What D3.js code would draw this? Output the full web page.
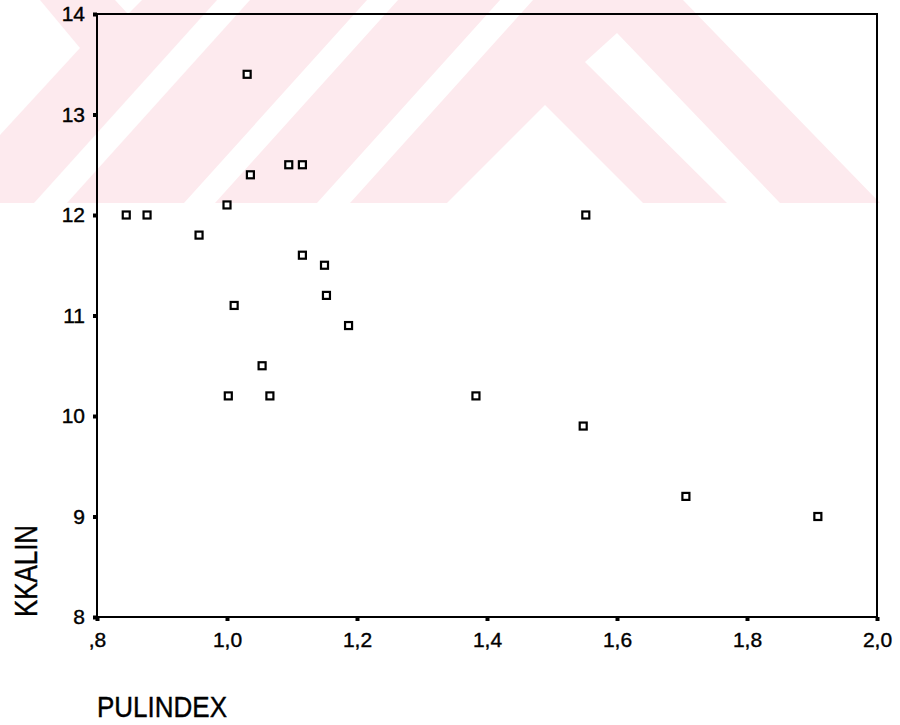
<!DOCTYPE html>
<html>
<head>
<meta charset="utf-8">
<title>KKALIN vs PULINDEX</title>
<style>
  body { margin: 0; background: #fff; }
  svg { display: block; font-family: "Liberation Sans", Arial, Helvetica, sans-serif; }
  text { fill: #000; stroke: #000; stroke-width: 0.4px; }
</style>
</head>
<body>
<svg></svg>
<script src="https://d3js.org/d3.v7.min.js"></script>
<script>
// data
const pulindex = [0.845, 0.877, 0.957, 1.000, 1.031, 1.036, 1.095, 1.116, 1.116, 1.150, 1.153,
                  1.187, 1.011, 1.054, 1.002, 1.066, 1.383, 1.552, 1.548, 1.706, 1.909];
const kkalin   = [12.0, 12.0, 11.8, 12.1, 13.4, 12.4, 12.5, 12.5, 11.6, 11.5, 11.2,
                  10.9, 11.1, 10.5, 10.2, 10.2, 10.2, 12.0, 9.9, 9.2, 9.0];

const xTicks = [0.8, 1.0, 1.2, 1.4, 1.6, 1.8, 2.0];
const xTickLabels = [",8", "1,0", "1,2", "1,4", "1,6", "1,8", "2,0"];
const yTicks = [8, 9, 10, 11, 12, 13, 14];
const yTickLabels = ["8", "9", "10", "11", "12", "13", "14"];

const width = 900, height = 725;
const svg = d3.select("svg").attr("width", width).attr("height", height);

// pink scan watermark in the top band
const wm = svg.append("g");
wm.append("rect").attr("x", 0).attr("y", 0).attr("width", width).attr("height", 203).attr("fill", "#fdeaee");
const whites = [
  [[0,0],[40,0],[80,48],[0,135]],
  [[115,0],[142,0],[128,14]],
  [[217,0],[250,0],[67,203],[34,203]],
  [[367,0],[398,0],[215,203],[184,203]],
  [[500,0],[533,0],[350,203],[317,203]],
  [[545,105],[643,203],[447,203]],
  [[585,62],[617,33],[780,203],[727,203]],
  [[683,0],[900,0],[900,203],[880,203]]
];
wm.selectAll("polygon").data(whites).enter().append("polygon")
  .attr("points", d => d.map(p => p.join(",")).join(" "))
  .attr("fill", "#fff");

const x = d3.scaleLinear().domain([0.8, 2.0]).range([97, 877]);
const y = d3.scaleLinear().domain([8, 14]).range([617, 14]);

// frame
svg.append("rect")
  .attr("x", x(0.8)).attr("y", y(14))
  .attr("width", x(2.0) - x(0.8)).attr("height", y(8) - y(14))
  .attr("fill", "none").attr("stroke", "#000").attr("stroke-width", 2);

// axes
const yAxis = d3.axisLeft(y).tickValues(yTicks)
  .tickFormat((d, i) => yTickLabels[i]).tickSize(4).tickPadding(8);
const xAxis = d3.axisBottom(x).tickValues(xTicks)
  .tickFormat((d, i) => xTickLabels[i]).tickSize(4).tickPadding(11);

const gy = svg.append("g").attr("transform", `translate(${x(0.8)},0)`).call(yAxis);
const gx = svg.append("g").attr("transform", `translate(0,${y(8)})`).call(xAxis);
[gx, gy].forEach(g => {
  g.select(".domain").remove();
  g.selectAll(".tick line").attr("stroke", "#000").attr("stroke-width", 4);
  g.selectAll(".tick text").style("font-size", "21px")
    .style("font-family", "'Liberation Sans', Arial, sans-serif");
});

// points
svg.append("g").selectAll("rect")
  .data(pulindex.map((p, i) => [p, kkalin[i]]))
  .enter().append("rect")
  .attr("x", d => x(d[0]) - 3.5)
  .attr("y", d => y(d[1]) - 3.5)
  .attr("width", 7).attr("height", 7)
  .attr("fill", "#fff").attr("stroke", "#000").attr("stroke-width", 2.2);

// axis titles
svg.append("text")
  .attr("transform", "translate(37,571) rotate(-90)")
  .attr("text-anchor", "middle")
  .attr("textLength", 92).attr("lengthAdjust", "spacingAndGlyphs")
  .style("font-size", "31px")
  .text("KKALIN");

svg.append("text")
  .attr("x", 97).attr("y", 717)
  .attr("textLength", 130).attr("lengthAdjust", "spacingAndGlyphs")
  .style("font-size", "29px")
  .text("PULINDEX");
</script>
</body>
</html>
